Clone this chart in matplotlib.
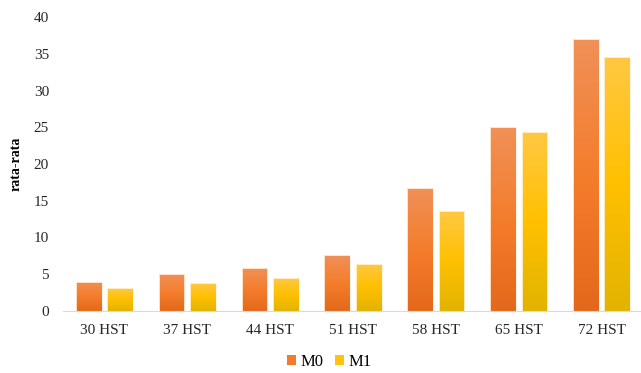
import numpy as np
import matplotlib
matplotlib.use("Agg")
import matplotlib.pyplot as plt
from matplotlib.colors import LinearSegmentedColormap
from matplotlib.patches import Patch

kategori = ['30 HST', '37 HST', '44 HST', '51 HST', '58 HST', '65 HST', '72 HST']
m0 = [4.0, 5.0, 5.8, 7.6, 16.7, 25.0, 37.0]
m1 = [3.1, 3.8, 4.45, 6.4, 13.6, 24.3, 34.6]

plt.rcParams['font.family'] = 'Liberation Serif'

fig = plt.figure(figsize=(6.41, 3.73), dpi=100)
ax = fig.add_axes([63 / 641, 1 - 311 / 373, 580 / 641, 294 / 373])

# gradien vertikal: bawah gelap, atas terang
cmap_m0 = LinearSegmentedColormap.from_list('m0', ['#E4681B', '#F47D2C', '#F09058'])
cmap_m1 = LinearSegmentedColormap.from_list('m1', ['#E2B300', '#FFC000', '#FFC843'])

x = np.arange(len(kategori))
lebar = 0.31
geser = 0.19
grad = np.linspace(0, 1, 256).reshape(-1, 1)


def bar_gradien(xs, vals, cmap):
    bars = ax.bar(xs, vals, lebar, color='none', edgecolor='#FFF3E0', linewidth=0.6, zorder=3)
    for b in bars:
        x0, y0 = b.get_x(), b.get_y()
        w, h = b.get_width(), b.get_height()
        im = ax.imshow(grad, cmap=cmap, origin='lower', aspect='auto',
                       extent=[x0, x0 + w, y0, y0 + h], zorder=2)
        im.set_clip_path(b)
    return bars


bar_gradien(x - geser, m0, cmap_m0)
bar_gradien(x + geser, m1, cmap_m1)

ax.set_xlim(-0.5, 6.5)
ax.set_ylim(0, 40)
ax.set_yticks(range(0, 41, 5))
ax.set_xticks(x)
ax.set_xticklabels(kategori)
ax.tick_params(length=0, labelsize=11, colors='#262626')
ax.tick_params(axis='y', pad=10)
ax.tick_params(axis='x', pad=9)
for s in ['top', 'right', 'left']:
    ax.spines[s].set_visible(False)
ax.spines['bottom'].set_color('#D9D9D9')
ax.set_ylabel('rata-rata', fontsize=10, fontweight='bold', labelpad=8)

handles = [Patch(facecolor='#F07A2E'), Patch(facecolor='#FFC20E')]
fig.legend(handles, ['M0', 'M1'], loc='center', bbox_to_anchor=(329 / 641, 1 - 362 / 373),
           ncol=2, frameon=False, fontsize=12, handlelength=0.55, handleheight=0.55,
           handletextpad=0.25, columnspacing=0.7)

fig.savefig('out.png', dpi=100)
